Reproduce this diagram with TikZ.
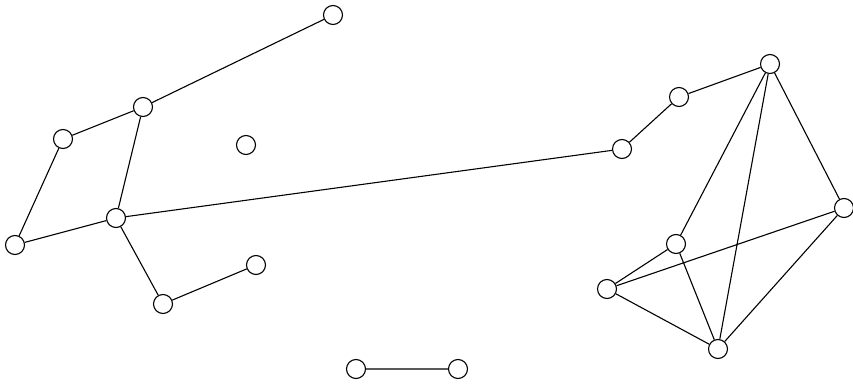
\documentclass[tikz,border=0pt]{standalone}
\begin{document}
\begin{tikzpicture}[x=1pt,y=-1pt,
  vtx/.style={circle,draw,line width=1.1pt,minimum size=19pt,inner sep=0pt,fill=white},
  edge/.style={line width=1.1pt}]
\useasboundingbox (0,0) rectangle (853,387);
\node[vtx] (A) at (333,15) {};
\node[vtx] (B) at (143,107) {};
\node[vtx] (C) at (63,139) {};
\node[vtx] (D) at (246,145) {};
\node[vtx] (E) at (116,218) {};
\node[vtx] (F) at (15,245) {};
\node[vtx] (G) at (256,265) {};
\node[vtx] (H) at (163,304) {};
\node[vtx] (I) at (356,369) {};
\node[vtx] (J) at (458,369) {};
\node[vtx] (K) at (622,149) {};
\node[vtx] (L) at (679,97) {};
\node[vtx] (M) at (770,64) {};
\node[vtx] (N) at (844,208) {};
\node[vtx] (O) at (676,244) {};
\node[vtx] (P) at (607,289) {};
\node[vtx] (Q) at (718,349) {};
\draw[edge] (A)--(B) (B)--(C) (C)--(F) (F)--(E) (B)--(E) (E)--(K) (E)--(H) (H)--(G)
  (I)--(J) (K)--(L) (L)--(M) (M)--(N) (M)--(O) (M)--(Q) (N)--(Q) (N)--(P)
  (P)--(O) (O)--(Q) (P)--(Q);
\end{tikzpicture}
\end{document}
